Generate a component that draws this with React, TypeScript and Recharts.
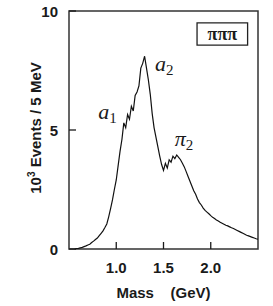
import { LineChart, Line, XAxis, YAxis, ReferenceArea, ReferenceDot } from "recharts";

// 3-pion invariant mass spectrum, 20 MeV sampling of the histogram
const mass = [
  0.56, 0.58, 0.6, 0.62, 0.64, 0.66, 0.68, 0.7, 0.72, 0.74, 0.76, 0.78, 0.8, 0.82, 0.84, 0.86, 0.88, 0.9,
  0.92, 0.94, 0.96, 0.98, 1.0, 1.02, 1.04, 1.06, 1.08, 1.1, 1.12, 1.14, 1.16, 1.18, 1.2, 1.22, 1.24, 1.26,
  1.28, 1.3, 1.32, 1.34, 1.36, 1.38, 1.4, 1.42, 1.44, 1.46, 1.48, 1.5, 1.52, 1.54, 1.56, 1.58, 1.6, 1.62,
  1.64, 1.66, 1.68, 1.7, 1.72, 1.74, 1.76, 1.78, 1.8, 1.82, 1.84, 1.86, 1.88, 1.9, 1.92, 1.94, 1.96, 1.98,
  2.0, 2.02, 2.04, 2.06, 2.08, 2.1, 2.12, 2.14, 2.16, 2.18, 2.2, 2.22, 2.24, 2.26, 2.28, 2.3, 2.32, 2.34,
  2.36, 2.38, 2.4, 2.42, 2.44, 2.46, 2.48, 2.5,
];
const events = [
  0.0, 0.02, 0.03, 0.05, 0.07, 0.1, 0.13, 0.17, 0.2, 0.27, 0.33, 0.4, 0.46, 0.56, 0.66, 0.76, 0.9, 1.05,
  1.35, 1.7, 2.06, 2.5, 2.9, 3.5, 4.1, 4.6, 5.3, 5.1, 5.65, 5.45, 6.0, 5.8, 6.45, 6.6, 6.85, 7.6,
  7.8, 8.1, 7.6, 7.1, 6.5, 5.7, 5.1, 4.7, 4.3, 3.9, 3.55, 3.3, 3.6, 3.4, 3.75, 3.65, 3.9, 3.8,
  3.95, 3.85, 3.75, 3.6, 3.45, 3.25, 3.05, 2.85, 2.65, 2.45, 2.3, 2.1, 1.95, 1.85, 1.72, 1.62, 1.55, 1.48,
  1.4, 1.33, 1.28, 1.22, 1.18, 1.12, 1.08, 1.04, 1.0, 0.97, 0.93, 0.89, 0.86, 0.82, 0.78, 0.74, 0.7, 0.66,
  0.62, 0.58, 0.55, 0.52, 0.49, 0.46, 0.43, 0.41,
];
const xTicks = [1.0, 1.5, 2.0];
const yTicks = [0, 5, 10];

const data = mass.map((m, i) => ({ m, v: events[i] }));

const sans = "'Liberation Sans', Arial, sans-serif";
const serif = "'Liberation Serif', 'Times New Roman', serif";
const ink = "#1a1a1a";

const XTick = ({ x, y, payload }: any) => (
  <g>
    <line x1={x} x2={x} y1={y} y2={y - 7} stroke={ink} strokeWidth={1.3} />
    <text x={x} y={y + 24} textAnchor="middle" fontFamily={sans} fontWeight="bold" fontSize={15} fill={ink}>
      {payload.value.toFixed(1)}
    </text>
  </g>
);

const YTick = ({ x, y, payload }: any) => (
  <g>
    <line x1={x} x2={x + 7} y1={y} y2={y} stroke={ink} strokeWidth={1.3} />
    <text x={x - 11} y={y + 5.5} textAnchor="end" fontFamily={sans} fontWeight="bold" fontSize={15} fill={ink}>
      {payload.value}
    </text>
  </g>
);

const YLabel = ({ viewBox }: any) => {
  const cx = viewBox.x + 41;
  const cy = viewBox.y + viewBox.height / 2 - 2;
  return (
    <text
      x={cx}
      y={cy}
      transform={`rotate(-90 ${cx} ${cy})`}
      textAnchor="middle"
      fontFamily={sans}
      fontWeight="bold"
      fontSize={15}
      fill={ink}
    >
      10<tspan fontSize={10} dy={-6}>3</tspan>
      <tspan dy={6}> Events / 5 MeV</tspan>
    </text>
  );
};

const XLabel = ({ viewBox }: any) => (
  <text
    x={viewBox.x + viewBox.width / 2 + 0}
    y={viewBox.y + 49}
    textAnchor="middle"
    fontFamily={sans}
    fontWeight="bold"
    fontSize={15}
    fill={ink}
  >
    {"Mass\u00a0\u00a0\u00a0\u00a0(GeV)"}
  </text>
);

// particle name with subscript, drawn at a data position
const peakLabel = (name: string, sub: string) => ({ viewBox }: any) => (
  <text x={viewBox.x} y={viewBox.y} fontFamily={serif} fill={ink}>
    <tspan fontStyle="italic" fontSize={22}>{name}</tspan>
    <tspan fontSize={15} dy={4}>{sub}</tspan>
  </text>
);

export default function App() {
  return (
    <div style={{ position: "absolute", left: 0, top: 0, background: "#fff" }}>
      <LineChart width={273} height={306} data={data} margin={{ top: 11, right: 15, bottom: 0, left: 0 }}>
        <XAxis
          dataKey="m"
          type="number"
          domain={[0.5, 2.5]}
          ticks={xTicks}
          tick={<XTick />}
          tickLine={false}
          axisLine={false}
          tickSize={0}
          tickMargin={0}
          height={57}
          label={<XLabel />}
        />
        <YAxis
          type="number"
          domain={[0, 10]}
          ticks={yTicks}
          tick={<YTick />}
          tickLine={false}
          axisLine={false}
          tickSize={0}
          tickMargin={0}
          width={69}
          label={<YLabel />}
        />
        <Line
          type="linear"
          dataKey="v"
          stroke="#111"
          strokeWidth={1.2}
          dot={false}
          isAnimationActive={false}
        />
        <ReferenceArea x1={0.5} x2={2.5} y1={0} y2={10} fill="none" stroke="#333" strokeWidth={1.5} />
        <ReferenceArea
          x1={1.855}
          x2={2.39}
          y1={8.57}
          y2={9.5}
          fill="#fff"
          fillOpacity={1}
          stroke="#222"
          strokeWidth={1.3}
          label={{
            value: "\u03c0\u03c0\u03c0",
            position: "center",
            fontFamily: serif,
            fontWeight: "bold",
            fontSize: 18,
            fill: ink,
          }}
        />
        <ReferenceDot x={0.82} y={5.4} r={1} fill="none" stroke="none" label={peakLabel("a", "1")} />
        <ReferenceDot x={1.42} y={7.45} r={1} fill="none" stroke="none" label={peakLabel("a", "2")} />
        <ReferenceDot x={1.63} y={4.3} r={1} fill="none" stroke="none" label={peakLabel("\u03c0", "2")} />
      </LineChart>
    </div>
  );
}
